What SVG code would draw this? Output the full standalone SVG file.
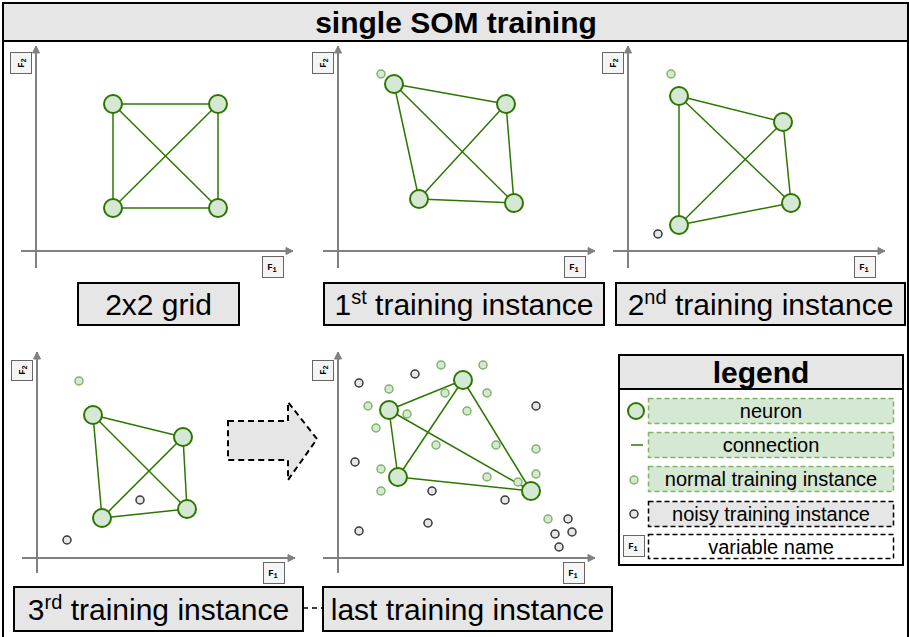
<svg xmlns="http://www.w3.org/2000/svg" width="909" height="637" viewBox="0 0 909 637">
<defs>
<marker id="ah" markerWidth="10" markerHeight="10" refX="8" refY="5" orient="auto" markerUnits="userSpaceOnUse">
<path d="M1,1.5 L8,5 L1,8.5 Z" fill="#808080" stroke="#808080" stroke-width="1"/>
</marker>
<style>
.frame{fill:none;stroke:#000;stroke-width:2}
.bar{fill:#e6e6e6;stroke:#000;stroke-width:2}
.lbl{fill:#e6e6e6;stroke:#000;stroke-width:2}
.t30{font-family:"Liberation Sans",Arial,sans-serif;font-size:30px;fill:#000;text-anchor:middle}
.tb{font-family:"Liberation Sans",Arial,sans-serif;font-size:30px;font-weight:bold;fill:#000;text-anchor:middle}
.t20{font-family:"Liberation Sans",Arial,sans-serif;font-size:20px;fill:#000;text-anchor:middle}
.axis{stroke:#808080;stroke-width:2;fill:none}
.vb{fill:#f5f5f5;stroke:#666;stroke-width:1}
.vt{font-family:"Liberation Mono","Courier New",monospace;font-size:9px;font-weight:bold;fill:#000;text-anchor:middle}
.neu{fill:#d5e8d4;stroke:#2d7600;stroke-width:2}
.edge{stroke:#2d7600;stroke-width:1.5;fill:none}
.norm{fill:#d5e8d4;stroke:#82b366;stroke-width:1.5}
.noisy{fill:#e6e6e6;stroke:#36393d;stroke-width:1.5}
.gbox{fill:#d5e8d4;stroke:#82b366;stroke-width:1.5;stroke-dasharray:5 3}
.kbox{stroke:#000;stroke-width:1.5;stroke-dasharray:5 3}
</style>
</defs>
<rect x="0" y="0" width="909" height="637" fill="#fff"/>

<g id="frame">
<rect class="frame" x="3" y="3" width="905" height="645"/>
<rect class="bar" x="3" y="3" width="905" height="38"/>
<text class="tb" x="456" y="33">single SOM training</text>
</g>

<!-- Panel 1 -->
<g id="panel1">
<line class="axis" x1="36" y1="268" x2="36" y2="46" marker-end="url(#ah)"/>
<line class="axis" x1="21" y1="251" x2="293" y2="251" marker-end="url(#ah)"/>
<rect class="vb" x="10.5" y="52.5" width="21" height="21"/>
<text class="vt" transform="translate(24,63) rotate(-90)">F<tspan font-size="7" dy="2">2</tspan></text>
<rect class="vb" x="262.5" y="256.5" width="21" height="21"/>
<text class="vt" x="272" y="270">F<tspan font-size="7" dy="2">1</tspan></text>
</g>
<g id="panel2">
<line class="axis" x1="338" y1="268" x2="338" y2="46" marker-end="url(#ah)"/>
<line class="axis" x1="323" y1="251" x2="595" y2="251" marker-end="url(#ah)"/>
<rect class="vb" x="312.5" y="52.5" width="21" height="21"/>
<text class="vt" transform="translate(326,63) rotate(-90)">F<tspan font-size="7" dy="2">2</tspan></text>
<rect class="vb" x="564.5" y="256.5" width="21" height="21"/>
<text class="vt" x="574" y="270">F<tspan font-size="7" dy="2">1</tspan></text>
</g>
<g id="panel3">
<line class="axis" x1="628" y1="268" x2="628" y2="46" marker-end="url(#ah)"/>
<line class="axis" x1="613" y1="251" x2="885" y2="251" marker-end="url(#ah)"/>
<rect class="vb" x="602.5" y="52.5" width="21" height="21"/>
<text class="vt" transform="translate(616,63) rotate(-90)">F<tspan font-size="7" dy="2">2</tspan></text>
<rect class="vb" x="854.5" y="256.5" width="21" height="21"/>
<text class="vt" x="864" y="270">F<tspan font-size="7" dy="2">1</tspan></text>
</g>
<g id="panel4">
<line class="axis" x1="37" y1="573" x2="37" y2="352" marker-end="url(#ah)"/>
<line class="axis" x1="22" y1="558" x2="295" y2="558" marker-end="url(#ah)"/>
<rect class="vb" x="11.5" y="360.5" width="21" height="20"/>
<text class="vt" transform="translate(25,370) rotate(-90)">F<tspan font-size="7" dy="2">2</tspan></text>
<rect class="vb" x="263.5" y="562.5" width="21" height="21"/>
<text class="vt" x="273" y="576">F<tspan font-size="7" dy="2">1</tspan></text>
</g>
<g id="panel5">
<line class="axis" x1="338" y1="573" x2="338" y2="352" marker-end="url(#ah)"/>
<line class="axis" x1="323" y1="558" x2="595" y2="558" marker-end="url(#ah)"/>
<rect class="vb" x="312.5" y="360.5" width="21" height="20"/>
<text class="vt" transform="translate(326,370) rotate(-90)">F<tspan font-size="7" dy="2">2</tspan></text>
<rect class="vb" x="563.5" y="562.5" width="21" height="21"/>
<text class="vt" x="573" y="576">F<tspan font-size="7" dy="2">1</tspan></text>
</g>

<!-- connectors -->
<g id="connectors">
<g id="edges1">
<line class="edge" x1="113" y1="104" x2="218" y2="104"/>
<line class="edge" x1="113" y1="104" x2="113" y2="208"/>
<line class="edge" x1="113" y1="104" x2="218" y2="208"/>
<line class="edge" x1="218" y1="104" x2="113" y2="208"/>
<line class="edge" x1="218" y1="104" x2="218" y2="208"/>
<line class="edge" x1="113" y1="208" x2="218" y2="208"/>
</g>
<g id="edges2">
<line class="edge" x1="394" y1="84" x2="506" y2="104"/>
<line class="edge" x1="394" y1="84" x2="419" y2="199"/>
<line class="edge" x1="394" y1="84" x2="514" y2="203"/>
<line class="edge" x1="506" y1="104" x2="419" y2="199"/>
<line class="edge" x1="506" y1="104" x2="514" y2="203"/>
<line class="edge" x1="419" y1="199" x2="514" y2="203"/>
</g>
<g id="edges3">
<line class="edge" x1="679" y1="96" x2="783" y2="122"/>
<line class="edge" x1="679" y1="96" x2="679" y2="225"/>
<line class="edge" x1="679" y1="96" x2="791" y2="203"/>
<line class="edge" x1="783" y1="122" x2="679" y2="225"/>
<line class="edge" x1="783" y1="122" x2="791" y2="203"/>
<line class="edge" x1="679" y1="225" x2="791" y2="203"/>
</g>
<g id="edges4">
<line class="edge" x1="93" y1="415" x2="183" y2="437"/>
<line class="edge" x1="93" y1="415" x2="102" y2="518"/>
<line class="edge" x1="93" y1="415" x2="187" y2="509"/>
<line class="edge" x1="183" y1="437" x2="102" y2="518"/>
<line class="edge" x1="183" y1="437" x2="187" y2="509"/>
<line class="edge" x1="102" y1="518" x2="187" y2="509"/>
</g>
<g id="edges5">
<line class="edge" x1="389" y1="410" x2="463" y2="380"/>
<line class="edge" x1="389" y1="410" x2="398" y2="477"/>
<line class="edge" x1="389" y1="410" x2="531" y2="491"/>
<line class="edge" x1="463" y1="380" x2="398" y2="477"/>
<line class="edge" x1="463" y1="380" x2="531" y2="491"/>
<line class="edge" x1="398" y1="477" x2="531" y2="491"/>
</g>
<line id="link" x1="303" y1="608" x2="323" y2="608" stroke="#000" stroke-width="1.5" stroke-dasharray="5 4"/>
</g>

<!-- neurons and instances -->
<g id="som1">
<circle class="neu" cx="113" cy="104" r="9"/>
<circle class="neu" cx="218" cy="104" r="9"/>
<circle class="neu" cx="113" cy="208" r="9"/>
<circle class="neu" cx="218" cy="208" r="9"/>
</g>
<g id="som2">
<circle class="norm" cx="381" cy="74" r="4"/>
<circle class="neu" cx="394" cy="84" r="9"/>
<circle class="neu" cx="506" cy="104" r="9"/>
<circle class="neu" cx="419" cy="199" r="9"/>
<circle class="neu" cx="514" cy="203" r="9"/>
</g>
<g id="som3">
<circle class="norm" cx="671" cy="74" r="4"/>
<circle class="noisy" cx="658" cy="234" r="4"/>
<circle class="neu" cx="679" cy="96" r="9"/>
<circle class="neu" cx="783" cy="122" r="9"/>
<circle class="neu" cx="679" cy="225" r="9"/>
<circle class="neu" cx="791" cy="203" r="9"/>
</g>
<g id="som4">
<circle class="norm" cx="79" cy="381" r="4"/>
<circle class="noisy" cx="140" cy="500" r="4"/>
<circle class="noisy" cx="67" cy="540" r="4"/>
<circle class="neu" cx="93" cy="415" r="9"/>
<circle class="neu" cx="183" cy="437" r="9"/>
<circle class="neu" cx="102" cy="518" r="9"/>
<circle class="neu" cx="187" cy="509" r="9"/>
</g>
<g id="som5">
<circle class="norm" cx="441" cy="365" r="4"/>
<circle class="norm" cx="483" cy="365" r="4"/>
<circle class="norm" cx="389" cy="389" r="4"/>
<circle class="norm" cx="445" cy="393" r="4"/>
<circle class="norm" cx="487" cy="393" r="4"/>
<circle class="norm" cx="368" cy="406" r="4"/>
<circle class="norm" cx="407" cy="414" r="4"/>
<circle class="norm" cx="467" cy="411" r="4"/>
<circle class="norm" cx="376" cy="428" r="4"/>
<circle class="norm" cx="436" cy="445" r="4"/>
<circle class="norm" cx="496" cy="445" r="4"/>
<circle class="norm" cx="536" cy="449" r="4"/>
<circle class="norm" cx="381" cy="469" r="4"/>
<circle class="norm" cx="487" cy="477" r="4"/>
<circle class="norm" cx="536" cy="474" r="4"/>
<circle class="norm" cx="518" cy="482" r="4"/>
<circle class="norm" cx="381" cy="491" r="4"/>
<circle class="norm" cx="548" cy="519" r="4"/>
<circle class="noisy" cx="359" cy="383" r="4"/>
<circle class="noisy" cx="415" cy="374" r="4"/>
<circle class="noisy" cx="536" cy="406" r="4"/>
<circle class="noisy" cx="355" cy="462" r="4"/>
<circle class="noisy" cx="432" cy="491" r="4"/>
<circle class="noisy" cx="505" cy="500" r="4"/>
<circle class="noisy" cx="428" cy="523" r="4"/>
<circle class="noisy" cx="359" cy="531" r="4"/>
<circle class="noisy" cx="568" cy="519" r="4"/>
<circle class="noisy" cx="572" cy="532" r="4"/>
<circle class="noisy" cx="555" cy="534" r="4"/>
<circle class="noisy" cx="559" cy="547" r="4"/>
<circle class="neu" cx="463" cy="380" r="9"/>
<circle class="neu" cx="389" cy="410" r="9"/>
<circle class="neu" cx="398" cy="477" r="9"/>
<circle class="neu" cx="531" cy="491" r="9"/>
</g>

<!-- big arrow -->
<g id="arrow">
<path d="M228,421 L288,421 L288,402 L317,439 L288,480 L288,460 L228,460 Z" fill="#e6e6e6" stroke="#000" stroke-width="2" stroke-dasharray="6 4"/>
</g>

<!-- labels -->
<g id="label1">
<rect class="lbl" x="78" y="283" width="161" height="42"/>
<text class="t30" x="158.5" y="315">2x2 grid</text>
</g>
<g id="label2">
<rect class="lbl" x="324" y="283" width="280" height="42"/>
<text class="t30" x="464" y="315">1<tspan font-size="20" dy="-11">st</tspan><tspan dy="11"> training instance</tspan></text>
</g>
<g id="label3">
<rect class="lbl" x="616" y="283" width="289" height="42"/>
<text class="t30" x="760.5" y="315">2<tspan font-size="20" dy="-11">nd</tspan><tspan dy="11"> training instance</tspan></text>
</g>
<g id="label4">
<rect class="lbl" x="14" y="587" width="289" height="44"/>
<text class="t30" x="158.5" y="620">3<tspan font-size="20" dy="-11">rd</tspan><tspan dy="11"> training instance</tspan></text>
</g>
<g id="label5">
<rect class="lbl" x="323" y="587" width="289" height="44"/>
<text class="t30" x="467.5" y="620">last training instance</text>
</g>

<!-- legend -->
<g id="legend">
<rect x="619" y="355" width="284" height="210" fill="#fff" stroke="#000" stroke-width="2"/>
<rect class="bar" x="619" y="355" width="284" height="34"/>
<text class="tb" x="761" y="383">legend</text>
<g id="leg-neuron">
<circle class="neu" cx="636" cy="411" r="8"/>
<rect class="gbox" x="648.5" y="398.5" width="245" height="25"/>
<text class="t20" x="771" y="418">neuron</text>
</g>
<g id="leg-connection">
<line class="edge" x1="631" y1="445" x2="643" y2="445"/>
<rect class="gbox" x="648.5" y="432.5" width="245" height="25"/>
<text class="t20" x="771" y="452">connection</text>
</g>
<g id="leg-normal">
<circle class="norm" cx="634" cy="480" r="4"/>
<rect class="gbox" x="648.5" y="466.5" width="245" height="25"/>
<text class="t20" x="771" y="486">normal training instance</text>
</g>
<g id="leg-noisy">
<circle class="noisy" cx="634" cy="514" r="4"/>
<rect class="kbox" x="648.5" y="501.5" width="245" height="25" fill="#e6e6e6"/>
<text class="t20" x="771" y="521">noisy training instance</text>
</g>
<g id="leg-var">
<rect class="vb" x="623.5" y="535.5" width="21" height="21"/>
<text class="vt" x="633" y="549">F<tspan font-size="7" dy="2">1</tspan></text>
<rect class="kbox" x="648.5" y="534.5" width="245" height="24" fill="#fff"/>
<text class="t20" x="771" y="554">variable name</text>
</g>
</g>
</svg>
